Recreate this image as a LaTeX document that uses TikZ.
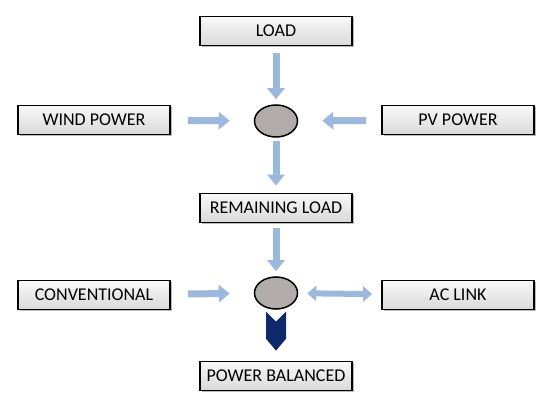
\documentclass[tikz,border=0pt]{standalone}
\usepackage{fontspec}
\setmainfont{Carlito}
\usetikzlibrary{shapes.geometric,arrows.meta,shadows,calc}
\definecolor{arrowblue}{HTML}{9CB9DD}
\definecolor{navyarrow}{HTML}{0E2A6A}
\definecolor{ellgray}{HTML}{B1ACA9}
\tikzset{
  box/.style={rectangle, draw=black, line width=1.7pt, top color=gray!5, bottom color=gray!30,
    minimum width=152pt, minimum height=29pt, inner sep=0pt, font=\fontsize{18}{20}\selectfont,
    drop shadow={shadow xshift=1.8pt, shadow yshift=-1.8pt, opacity=0.55}},
  junction/.style={ellipse, draw=black, line width=1.5pt, fill=ellgray,
    minimum width=43pt, minimum height=32pt, inner sep=0pt},
  flow/.style={draw=arrowblue, line width=7pt, -{Triangle[width=17pt,length=11pt]}},
  bothflow/.style={draw=arrowblue, line width=6pt, {Triangle[width=15pt,length=9pt]}-{Triangle[width=15pt,length=9pt]}}
}
\begin{document}
\begin{tikzpicture}[x=1pt,y=-1pt]
\useasboundingbox (0,0) rectangle (550,406);
\node[box] (load) at (276,31) {LOAD};
\node[box] (wind) at (94,120) {WIND POWER};
\node[box] (pv) at (458,120) {PV POWER};
\node[box] (rem) at (276,208) {REMAINING LOAD};
\node[box] (conv) at (94,295) {CONVENTIONAL};
\node[box] (ac) at (458,295) {AC LINK};
\node[box] (pb) at (276,376) {POWER BALANCED};
\node[junction] (e1) at (276,121) {};
\node[junction] (e2) at (276,293) {};

\draw[flow, shorten <=7pt, shorten >=5pt] (load) -- (e1);
\draw[flow, shorten <=17pt, shorten >=24pt] (wind) -- (e1);
\draw[flow, shorten <=15pt, shorten >=24pt] (pv) -- (e1);
\draw[flow, shorten <=3pt, shorten >=7pt] (e1) -- (rem);
\draw[flow, shorten <=5pt, shorten >=5pt] (rem) -- (e2);
\draw[flow, shorten <=17pt, shorten >=24pt] (conv) -- (e2);
\draw[bothflow, shorten <=9pt, shorten >=9pt] (e2) -- (ac);
\fill[navyarrow] ($(e2.south)+(-10,2)$) -- ($(e2.south)+(0,12)$) -- ($(e2.south)+(10,2)$)
  -- ($(e2.south)+(10,29)$) -- ($(pb.north)+(0,-10)$) -- ($(e2.south)+(-10,29)$) -- cycle;
\end{tikzpicture}
\end{document}
